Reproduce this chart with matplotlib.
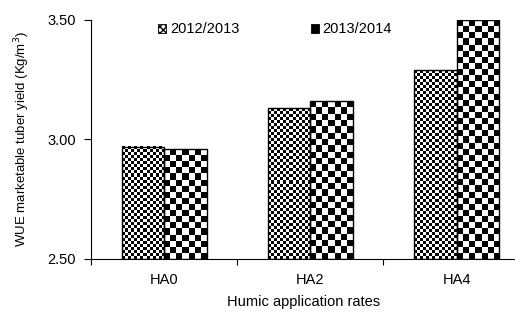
import numpy as np
import matplotlib.pyplot as plt
from matplotlib.patches import Patch

plt.rcParams['font.family'] = ['Liberation Sans', 'DejaVu Sans']

# data
categories = ['HA0', 'HA2', 'HA4']
seasons = ['2012/2013', '2013/2014']
wue_2012 = [2.97, 3.13, 3.29]
wue_2013 = [2.96, 3.16, 3.50]

fig = plt.figure(figsize=(5.15, 3.12), dpi=100)
ax = fig.add_axes([0.177, 0.170, 0.823, 0.766])

ymin, ymax = 2.5, 3.5
xlim = (-0.5, 2.40)
ax.set_xlim(*xlim)
ax.set_ylim(ymin, ymax)

x = np.arange(len(categories))
w = 0.29


def checker(ax, bar, cell_px):
    # fill a bar with a black/white checkerboard texture
    x0, y0 = bar.get_x(), bar.get_y()
    bw, bh = bar.get_width(), bar.get_height()
    p0 = ax.transData.transform((x0, y0))
    p1 = ax.transData.transform((x0 + bw, y0 + bh))
    nx = max(1, int(round((p1[0] - p0[0]) / cell_px)))
    ny = max(1, int(round((p1[1] - p0[1]) / cell_px)))
    img = (np.add.outer(np.arange(ny), np.arange(nx)) % 2).astype(float)
    ax.imshow(img, cmap='gray', vmin=0, vmax=1, interpolation='nearest',
              extent=(x0, x0 + bw, y0, y0 + bh), origin='lower',
              aspect='auto', zorder=2)


bars1 = ax.bar(x - w / 2, np.array(wue_2012) - ymin, w, bottom=ymin,
               facecolor='none', edgecolor='black', linewidth=1.0, zorder=3)
bars2 = ax.bar(x + w / 2, np.array(wue_2013) - ymin, w, bottom=ymin,
               facecolor='none', edgecolor='black', linewidth=1.0, zorder=3)
for b in bars1:
    checker(ax, b, 3.0)
for b in bars2:
    checker(ax, b, 6.2)
ax.set_xlim(*xlim)
ax.set_ylim(ymin, ymax)

ax.spines['top'].set_visible(False)
ax.spines['right'].set_visible(False)
ax.spines['left'].set_linewidth(0.8)
ax.spines['bottom'].set_linewidth(0.8)

ax.set_yticks([2.5, 3.0, 3.5])
ax.set_yticklabels(['2.50', '3.00', '3.50'], fontsize=10.5)
ax.tick_params(axis='y', length=5, width=0.8, pad=6)

ax.set_xticks(x)
ax.set_xticklabels(categories, fontsize=10.5)
ax.tick_params(axis='x', length=0, pad=10)
ax.set_xticks([-0.5, 0.5, 1.5], minor=True)
ax.tick_params(axis='x', which='minor', length=4, width=0.8)

ax.set_xlabel('Humic application rates', fontsize=10.5, labelpad=6)
ax.set_ylabel('WUE marketable tuber yield (Kg/m$^3$)', fontsize=9.5, labelpad=11)

handles = [Patch(facecolor='white', edgecolor='black', hatch='xxxxx', linewidth=0.6),
           Patch(facecolor='black', edgecolor='black', linewidth=0.6)]
ax.legend(handles, seasons, loc='upper left', bbox_to_anchor=(0.127, 1.045),
          ncol=2, frameon=False, fontsize=10.5, handlelength=0.55,
          handleheight=0.55, handletextpad=0.25, columnspacing=4.9)

fig.savefig('out.png', dpi=100)
